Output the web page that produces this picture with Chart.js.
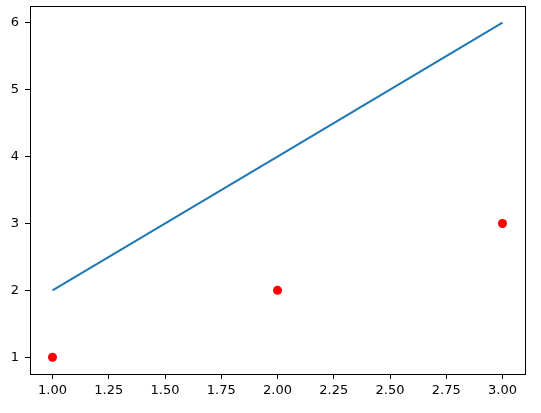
<!DOCTYPE html>
<html>
<head>
<meta charset="utf-8">
<script src="https://cdn.jsdelivr.net/npm/chart.js@4/dist/chart.umd.min.js"></script>
<style>
  html, body { margin: 0; padding: 0; background: #fff; }
  #wrap { width: 541px; height: 413px; }
</style>
</head>
<body>
<div id="wrap"><canvas id="chartLine"></canvas></div>
<script>
// data
const lineX = [1, 2, 3];
const lineY = [2, 4, 6];
const dotX = [1, 2, 3];
const dotY = [1, 2, 3];
const xTicks = [1.0, 1.25, 1.5, 1.75, 2.0, 2.25, 2.5, 2.75, 3.0];
const yTicks = [1, 2, 3, 4, 5, 6];

const canvasLine = document.getElementById("chartLine");

function toPoints(xs, ys) {
    return xs.map((x, i) => ({ x: x, y: ys[i] }));
}

// draw the black frame round the plot like matplotlib
const frame = {
    id: "frame",
    afterDatasetsDraw(chart) {
        const a = chart.chartArea;
        const ctx = chart.ctx;
        ctx.save();
        ctx.strokeStyle = "#000";
        ctx.lineWidth = 1;
        ctx.strokeRect(Math.round(a.left) + 0.5, Math.round(a.top) + 0.5,
            Math.round(a.right - a.left), Math.round(a.bottom - a.top));
        ctx.restore();
    }
};

const font = { family: "DejaVu Sans", size: 13 };

// no extra room for half labels, the sizes are fixed
function fixSize(s, w, h) {
    if (w) s.width = w;
    if (h) s.height = h;
    s.paddingTop = 0;
    s.paddingBottom = 0;
    s.paddingLeft = 0;
    s.paddingRight = 0;
}

new Chart(canvasLine, {
    type: "scatter",
    data: {
        datasets: [{
            data: toPoints(lineX, lineY),
            showLine: true,
            borderColor: "#1f77b4",
            borderWidth: 2,
            pointRadius: 0
        }, {
            data: toPoints(dotX, dotY),
            backgroundColor: "#ff0000",
            borderColor: "#ff0000",
            pointRadius: 4.5,
            borderWidth: 0
        }]
    },
    options: {
        responsive: true,
        maintainAspectRatio: false,
        animation: false,
        layout: { padding: { top: 6, right: 16, left: 0, bottom: 0 } },
        plugins: { legend: { display: false }, tooltip: { enabled: false } },
        scales: {
            x: {
                type: "linear",
                min: 0.9,
                max: 3.1,
                afterBuildTicks: s => { s.ticks = xTicks.map(v => ({ value: v })); },
                afterFit: s => fixSize(s, 0, 39),
                border: { display: false },
                grid: { drawOnChartArea: false, tickLength: 5, color: "#000" },
                ticks: {
                    color: "#000", font: font, padding: 4, maxRotation: 0,
                    callback: v => Number(v).toFixed(2)
                }
            },
            y: {
                type: "linear",
                min: 0.75,
                max: 6.25,
                afterBuildTicks: s => { s.ticks = yTicks.map(v => ({ value: v })); },
                afterFit: s => fixSize(s, 30, 0),
                border: { display: false },
                grid: { drawOnChartArea: false, tickLength: 5, color: "#000" },
                ticks: { color: "#000", font: font, padding: 6, callback: v => String(v) }
            }
        }
    },
    plugins: [frame]
});
</script>
</body>
</html>
